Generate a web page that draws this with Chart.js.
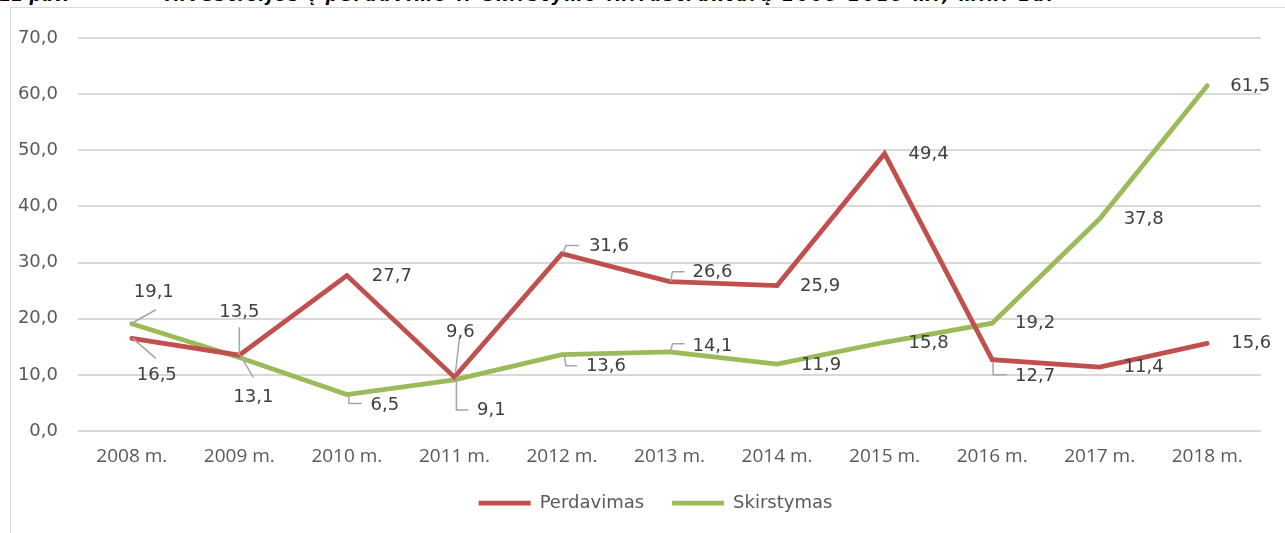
<!DOCTYPE html>
<html>
<head>
<meta charset="utf-8">
<script src="https://cdn.jsdelivr.net/npm/chart.js@4.4.1/dist/chart.umd.min.js"></script>
<style>
  html, body { margin: 0; padding: 0; background: #fff; }
  body { width: 1285px; height: 533px; overflow: hidden; position: relative; }
  #frame { position: absolute; left: 10px; top: 7px; width: 1400px; height: 700px; border: 1px solid #D9D9D9; box-sizing: border-box; }
  .ttl { position: absolute; top: -13px; font: italic bold 17px "DejaVu Sans"; color: #000; white-space: pre; line-height: 17px; }
  #wrap { position: absolute; left: 0; top: 0; width: 1285px; height: 533px; }
</style>
</head>
<body>
<div id="frame"></div>
<div class="ttl" style="left:0">22 pav.</div>
<div class="ttl" style="left:165px; letter-spacing:2.3px">Investicijos į perdavimo ir skirstymo infrastruktūrą 2008-2018 m., mln. Eur</div>
<div id="wrap"><canvas id="mycanvas" width="1285" height="533"></canvas></div>
<script>
var years = ["2008 m.", "2009 m.", "2010 m.", "2011 m.", "2012 m.", "2013 m.", "2014 m.", "2015 m.", "2016 m.", "2017 m.", "2018 m."];
var perdavimas = [16.5, 13.5, 27.7, 9.6, 31.6, 26.6, 25.9, 49.4, 12.7, 11.4, 15.6];
var skirstymas = [19.1, 13.1, 6.5, 9.1, 13.6, 14.1, 11.9, 15.8, 19.2, 37.8, 61.5];
var yTicks = [0, 10, 20, 30, 40, 50, 60, 70];

// where each value label sits relative to its point: [dx, dy, leader polyline or null]
var perdavimasLabels = [
  [25, 37, [[1, 0], [24, 20]]],
  [0, -43, [[0, -28], [0, 0]]],
  [45, 1, null],
  [6, -45, [[5, -39], [1, -4]]],
  [47, -7, [[1, -1], [4, -8], [17, -8]]],
  [43, -9, [[1, 0], [3, -10], [15, -10]]],
  [43, 1, null],
  [44, 1, null],
  [43, 17, [[1, 2], [1, 15], [15, 15]]],
  [44, 0, null],
  [44, 0, null]
];
var skirstymasLabels = [
  [22, -31, [[1, -1], [24, -14]]],
  [14, 40, [[1, -2], [14, 20]]],
  [38, 11, [[2, 0], [2, 9], [15, 9]]],
  [37, 30, [[2, -3], [2, 30], [14, 30]]],
  [44, 12, [[2, -1], [4, 11], [15, 11]]],
  [43, -6, [[1, 0], [3, -8], [15, -8]]],
  [44, 1, null],
  [44, 1, null],
  [43, 0, null],
  [44, 1, null],
  [43, 1, null]
];

function lt(v) { return v.toFixed(1).replace(".", ","); }

var valueLabels = {
  id: "valueLabels",
  afterLayout: function(chart) {
    // legend is centred under the plot, not the whole frame
    chart.legend.left += 40;
  },
  afterDatasetsDraw: function(chart) {
    var ctx = chart.ctx;
    var sets = [perdavimasLabels, skirstymasLabels];
    ctx.save();
    chart.data.datasets.forEach(function(ds, di) {
      var meta = chart.getDatasetMeta(di);
      meta.data.forEach(function(pt, i) {
        var lab = sets[di][i];
        if (lab[2]) {
          ctx.beginPath();
          ctx.strokeStyle = "#A6A6A6";
          ctx.lineWidth = 1.5;
          lab[2].forEach(function(p, k) {
            if (k == 0) ctx.moveTo(pt.x + p[0], pt.y + p[1]);
            else ctx.lineTo(pt.x + p[0], pt.y + p[1]);
          });
          ctx.stroke();
        }
      });
    });
    chart.data.datasets.forEach(function(ds, di) {
      var meta = chart.getDatasetMeta(di);
      meta.data.forEach(function(pt, i) {
        var lab = sets[di][i];
        ctx.font = "18px 'DejaVu Sans'";
        ctx.fillStyle = "#404040";
        ctx.textAlign = "center";
        ctx.textBaseline = "middle";
        ctx.fillText(lt(ds.data[i]), pt.x + lab[0], pt.y + lab[1]);
      });
    });
    ctx.restore();
  }
};

var chartdata = {
  labels: years,
  datasets: [
    {
      label: "Perdavimas",
      data: perdavimas,
      borderColor: "#C0504D",
      backgroundColor: "#C0504D",
      borderWidth: 4.75,
      borderCapStyle: "round",
      borderJoinStyle: "miter",
      pointRadius: 0,
      tension: 0
    },
    {
      label: "Skirstymas",
      data: skirstymas,
      borderColor: "#9BBB59",
      backgroundColor: "#9BBB59",
      borderWidth: 4.75,
      borderCapStyle: "round",
      borderJoinStyle: "miter",
      pointRadius: 0,
      tension: 0
    }
  ]
};

var ctx = document.getElementById("mycanvas");
var lineGraph = new Chart(ctx, {
  type: "line",
  data: chartdata,
  plugins: [valueLabels],
  options: {
    responsive: false,
    animation: false,
    layout: { padding: { left: 10, right: 24, top: 38, bottom: 11 } },
    plugins: {
      tooltip: { enabled: false },
      legend: {
        position: "bottom",
        labels: {
          usePointStyle: true,
          pointStyle: "line",
          pointStyleWidth: 52,
          padding: 28,
          color: "#595959",
          font: { family: "DejaVu Sans", size: 18 }
        }
      }
    },
    scales: {
      x: {
        offset: true,
        grid: { display: false, drawTicks: false },
        border: { display: false },
        ticks: { color: "#595959", padding: 14, maxRotation: 0, font: { family: "Open Sans", size: 19 } },
        afterFit: function(s) { s.height = 35; }
      },
      y: {
        min: 0,
        max: 70,
        afterBuildTicks: function(s) { s.ticks = yTicks.map(function(v) { return { value: v }; }); },
        grid: { color: "#D9D9D9", lineWidth: 2, drawTicks: false },
        border: { display: false },
        ticks: {
          color: "#595959",
          padding: 20,
          font: { family: "DejaVu Sans", size: 18 },
          callback: function(v) { return lt(v); }
        },
        afterFit: function(s) { s.width = 68; }
      }
    }
  }
});
</script>
</body>
</html>
